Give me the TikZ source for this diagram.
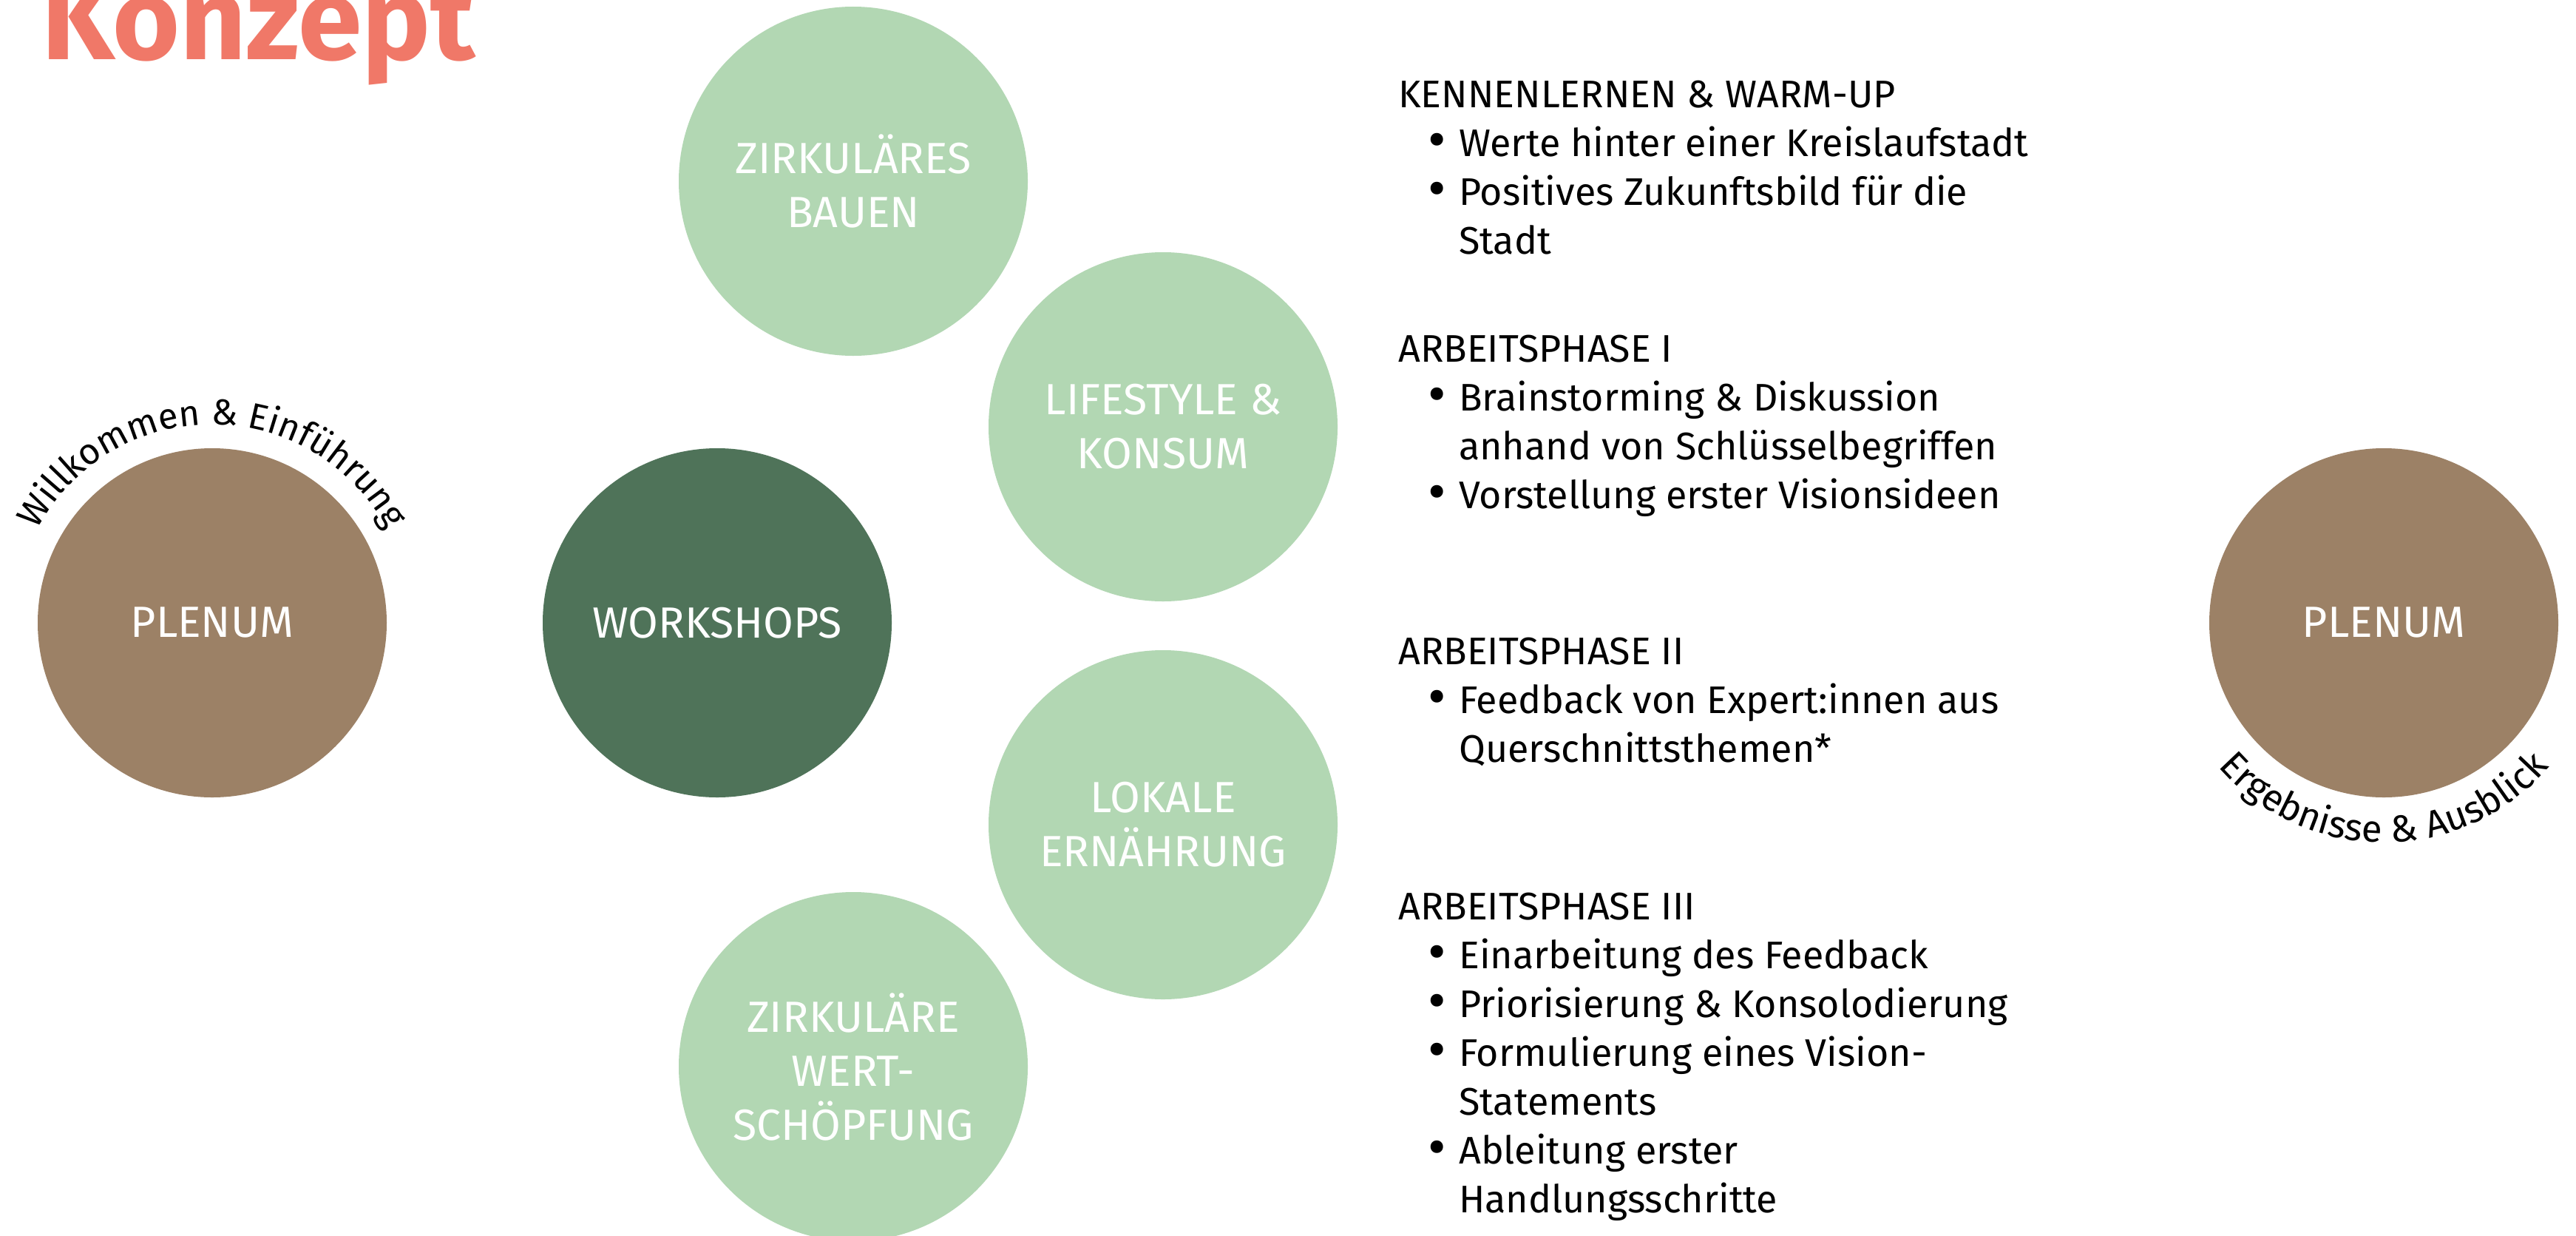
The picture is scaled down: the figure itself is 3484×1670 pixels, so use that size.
\documentclass[tikz,border=0pt]{standalone}
\usepackage{fontspec}
\setmainfont{Fira Sans}
\usetikzlibrary{decorations.text}
\definecolor{titlered}{RGB}{240,120,104}
\definecolor{plbrown}{RGB}{156,129,102}
\definecolor{darkgreen}{RGB}{79,115,89}
\definecolor{lightgreen}{RGB}{178,215,179}
\newcommand\bodysize{\fontsize{52}{66}\selectfont}
\newcommand\circsize{\fontsize{59}{73}\selectfont}
\newcommand\arcsizeA{\fontsize{49}{58}\selectfont}
\newcommand\arcsizeB{\fontsize{51}{60}\selectfont}
\newcommand\bul{\hspace*{40pt}\makebox[42pt][l]{\raisebox{-3pt}{\scalebox{1.45}{\textbullet}}}}
\newcommand\ind{\hspace*{82pt}}
\tikzset{
  disc/.style={circle, minimum size=472pt, inner sep=0pt, text=white, align=center, font=\circsize},
  plenumdisc/.style={disc, fill=plbrown},
  workdisc/.style={disc, fill=darkgreen},
  themedisc/.style={disc, fill=lightgreen},
  block/.style={anchor=base west, inner sep=0pt, align=left, font=\bodysize, text=black},
}
\begin{document}
\begin{tikzpicture}[x=1pt,y=1pt]
\useasboundingbox (0,0) rectangle (3484,-1670);
\fill[white] (0,0) rectangle (3484,-1670);
% title
\node[anchor=base west, inner sep=0pt, text=titlered, font=\fontsize{156}{166}\selectfont\bfseries] (title) at (56,-81) {Konzept};
% circles
\node[plenumdisc] (pl1) at (287,-842) {PLENUM};
\node[workdisc] (ws) at (970,-842) {WORKSHOPS};
\node[themedisc] (bau) at (1154,-245) {ZIRKULÄRES\\BAUEN};
\node[themedisc] (life) at (1573,-577) {LIFESTYLE \&\\KONSUM};
\node[themedisc] (lok) at (1573,-1115) {LOKALE\\ERNÄHRUNG};
\node[themedisc] (wert) at (1154,-1442) {ZIRKULÄRE\\WERT-\\SCHÖPFUNG};
\node[plenumdisc] (pl2) at (3224,-842) {PLENUM};
% arc texts
\path[decorate, decoration={text along path, text align=center,
  text={|\arcsizeA|Willkommen {\&} Einführung}}]
  (pl1.center) ++(180:268) arc[start angle=180, end angle=0, radius=268];
\path[decorate, decoration={text along path, text align=center,
  text={|\arcsizeB|Ergebnisse {\&} Ausblick}}]
  (pl2.center) ++(180:297) arc[start angle=180, end angle=360, radius=297];
% text blocks (anchor = baseline of last line)
\node[block] (b1) at (1891,-343) {KENNENLERNEN \& WARM-UP\\
\bul Werte hinter einer Kreislaufstadt\\
\bul Positives Zukunftsbild für die\\
\ind Stadt};
\node[block] (b2) at (1891,-687) {ARBEITSPHASE I\\
\bul Brainstorming \& Diskussion\\
\ind anhand von Schlüsselbegriffen\\
\bul Vorstellung erster Visionsideen};
\node[block] (b3) at (1891,-1030) {ARBEITSPHASE II\\
\bul Feedback von Expert:innen aus\\
\ind Querschnittsthemen*};
\node[block] (b4) at (1891,-1639) {ARBEITSPHASE III\\
\bul Einarbeitung des Feedback\\
\bul Priorisierung \& Konsolodierung\\
\bul Formulierung eines Vision-\\
\ind Statements\\
\bul Ableitung erster\\
\ind Handlungsschritte};
\end{tikzpicture}
\end{document}
